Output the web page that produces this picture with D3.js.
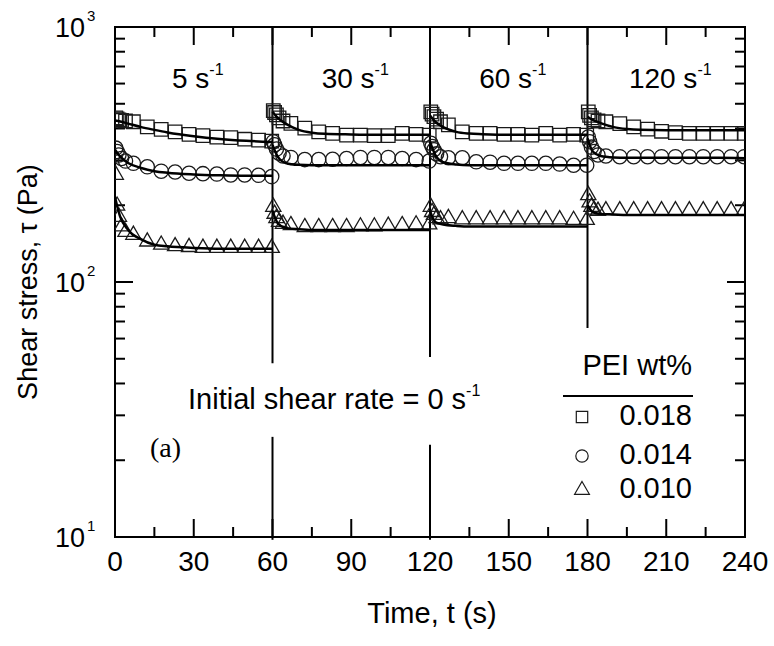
<!DOCTYPE html>
<html>
<head>
<meta charset="utf-8">
<script src="https://cdn.jsdelivr.net/npm/d3@7"></script>
<style>
body { margin: 0; background: #fff; }
text { font-family: "Liberation Sans", Arial, sans-serif; fill: #000; }
</style>
</head>
<body>
<script>
(function(){

//segment starts (shear rate step changes) and sample times inside each segment
var segStarts = [0, 60, 120, 180];
var rateLabels = ["5", "30", "60", "120"];
var sampleOffsets = [0.3, 0.8, 1.5, 2.5, 4, 7, 12.3, 17.6, 22.9, 28.2, 33.5, 38.8, 44.1, 49.4, 54.7, 59.7];
var fitOffsets = [0, 2, 5, 10, 15, 20, 30, 40, 50, 60];

//measured stress (Pa), one array per segment
var sq018 = [
    [440, 436, 432, 430, 428, 425, 406, 397, 388, 379, 375, 370, 368, 363, 360, 357],
    [470, 462, 452, 440, 428, 419, 401, 388, 383, 377, 377, 375, 375, 383, 379, 377],
    [465, 455, 445, 435, 425, 413, 388, 383, 383, 379, 379, 377, 383, 377, 379, 377],
    [465, 450, 440, 432, 428, 425, 418, 406, 398, 390, 385, 383, 383, 383, 383, 383]
];
var ci014 = [
    [335, 325, 315, 305, 298, 292, 283, 272, 270, 267, 266, 265, 263, 263, 262, 259],
    [355, 345, 332, 320, 312, 308, 302, 302, 303, 305, 308, 308, 308, 305, 302, 298],
    [350, 340, 330, 318, 310, 307, 307, 296, 295, 292, 292, 292, 292, 290, 287, 287],
    [370, 355, 338, 325, 315, 312, 310, 310, 310, 310, 310, 310, 310, 310, 310, 310]
];
var tr010 = [
    [263, 199, 180, 165, 157, 153, 144, 140, 138, 137, 136, 136, 136, 136, 136, 136],
    [197, 185, 178, 172, 169, 167, 164, 164, 164, 164, 165, 165, 166, 167, 168, 168],
    [197, 188, 183, 178, 176, 178, 176, 176, 176, 176, 176, 176, 176, 176, 175, 175],
    [219, 205, 197, 192, 190, 191, 191, 191, 191, 191, 191, 191, 191, 191, 191, 191]
];

//fitted curves (Pa) at fitOffsets
var fit018 = [
    [430, 426, 418, 405, 395, 386, 373, 364, 358, 354],
    [465, 440, 418, 395, 385, 381, 379, 378, 378, 378],
    [450, 425, 405, 388, 382, 380, 378, 378, 378, 378],
    [445, 432, 420, 405, 398, 395, 394, 394, 394, 394]
];
var fit014 = [
    [330, 310, 293, 280, 272, 268, 264, 262, 261, 261],
    [345, 310, 293, 288, 287, 287, 287, 287, 287, 287],
    [355, 315, 295, 289, 287, 287, 287, 287, 287, 287],
    [366, 325, 312, 308, 307, 307, 307, 307, 307, 306]
];
var fit010 = [
    [215, 180, 160, 147, 140, 138, 136, 135, 135, 135],
    [190, 170, 163, 161, 160, 160, 160, 160, 160, 160],
    [190, 172, 168, 166, 165, 165, 165, 165, 165, 165],
    [200, 188, 185, 184, 183, 183, 183, 183, 183, 183]
];

//vertical step lines: time and [top, bottom] stress spans
var dividerTimes = [60, 120, 180];
var dividerSpans = [
    [[1000, 48], [24.7, 9.75]],
    [[1000, 50.8], [23, 9.75]],
    [[1000, 66]]
];

var legendLabels = ["0.018", "0.014", "0.010"];
var xMajor = [0, 30, 60, 90, 120, 150, 180, 210, 240];
var xMinor = [15, 45, 75, 105, 135, 165, 195, 225];
var yMajor = [10, 100, 1000];
var yExp = ["1", "2", "3"];

var width = 774, height = 646;
var left = 115, right = 745, top = 27, bottom = 537;

var x = d3.scaleLinear().domain([0, 240]).range([left, right]);
var y = d3.scaleLog().domain([10, 1000]).range([bottom, top]);

var svg = d3.select("body").append("svg")
    .attr("width", width)
    .attr("height", height);

svg.append("clipPath").attr("id", "plotClip")
    .append("rect")
    .attr("x", left).attr("y", top)
    .attr("width", right - left).attr("height", bottom - top);

//minor log ticks
var yMinor = [];
[10, 100].forEach(function(dec){
    for (var k = 2; k <= 9; k++) yMinor.push(dec * k);
});

//ticks on all four sides, pointing inward
var ticks = svg.append("g").attr("stroke", "#000").attr("stroke-width", 2);
function hTicks(vals, len){
    vals.forEach(function(v){
        ticks.append("line").attr("x1", x(v)).attr("x2", x(v)).attr("y1", bottom).attr("y2", bottom - len);
        ticks.append("line").attr("x1", x(v)).attr("x2", x(v)).attr("y1", top).attr("y2", top + len);
    });
}
function vTicks(vals, len){
    vals.forEach(function(v){
        ticks.append("line").attr("x1", left).attr("x2", left + len).attr("y1", y(v)).attr("y2", y(v));
        ticks.append("line").attr("x1", right).attr("x2", right - len).attr("y1", y(v)).attr("y2", y(v));
    });
}
hTicks(xMajor.slice(1, -1), 18);
hTicks(xMinor, 10);
vTicks(yMajor.slice(1, -1), 18);
vTicks(yMinor, 10);

//frame
svg.append("rect")
    .attr("x", left).attr("y", top)
    .attr("width", right - left).attr("height", bottom - top)
    .attr("fill", "none").attr("stroke", "#000").attr("stroke-width", 2);

//step lines
dividerTimes.forEach(function(t, i){
    dividerSpans[i].forEach(function(s){
        svg.append("line")
            .attr("x1", x(t)).attr("x2", x(t))
            .attr("y1", y(s[0])).attr("y2", y(s[1]))
            .attr("stroke", "#000").attr("stroke-width", 2);
    });
});

//x tick labels
svg.selectAll(".xlab")
    .data(xMajor)
    .enter()
    .append("text")
    .attr("class", "xlab")
    .attr("x", function(d){ return x(d); })
    .attr("y", bottom + 34)
    .attr("text-anchor", "middle")
    .style("font-size", "28px")
    .text(function(d){ return d; });

//y tick labels 10^n
yMajor.forEach(function(v, i){
    svg.append("text")
        .attr("x", 85)
        .attr("y", y(v) + 10)
        .attr("text-anchor", "end")
        .style("font-size", "27px")
        .text("10");
    svg.append("text")
        .attr("x", 87)
        .attr("y", y(v) - 6)
        .style("font-size", "15px")
        .text(yExp[i]);
});

//axis titles
svg.append("text")
    .attr("x", 432).attr("y", 623)
    .attr("text-anchor", "middle")
    .style("font-size", "29px")
    .text("Time, t (s)");

svg.append("text")
    .attr("transform", "translate(37," + y(100) + ") rotate(-90)")
    .attr("text-anchor", "middle")
    .style("font-size", "27px")
    .text("Shear stress, \u03c4 (Pa)");

//shear rate labels
segStarts.forEach(function(s, i){
    var t = svg.append("text")
        .attr("x", x(s + 30) + 4)
        .attr("y", 88)
        .attr("text-anchor", "middle")
        .style("font-size", "28px");
    t.append("tspan").text(rateLabels[i] + " s");
    t.append("tspan").attr("dy", -13).style("font-size", "16px").text("-1");
});

var init = svg.append("text")
    .attr("x", 188).attr("y", 409)
    .style("font-size", "29px");
init.append("tspan").text("Initial shear rate = 0 s");
init.append("tspan").attr("dy", -13).style("font-size", "16px").text("-1");

svg.append("text")
    .attr("x", 150).attr("y", 457)
    .style("font-family", "'Liberation Serif', 'Times New Roman', serif")
    .style("font-size", "28px")
    .text("(a)");

//build point tables
function buildPoints(vals, offsets){
    var pts = [];
    vals.forEach(function(seg, i){
        seg.forEach(function(v, j){
            pts.push({t: segStarts[i] + offsets[j], v: v, seg: i});
        });
    });
    return pts;
}

var series = [
    {pts: buildPoints(sq018, sampleOffsets), fit: fit018, shape: d3.symbolSquare, size: 182},
    {pts: buildPoints(ci014, sampleOffsets), fit: fit014, shape: d3.symbolCircle, size: 160},
    {pts: buildPoints(tr010, sampleOffsets), fit: fit010, shape: d3.symbolTriangle, size: 100}
];

var plot = svg.append("g").attr("clip-path", "url(#plotClip)");

series.forEach(function(s){
    plot.selectAll(null)
        .data(s.pts)
        .enter()
        .append("path")
        .attr("d", d3.symbol().type(s.shape).size(s.size))
        .attr("transform", function(d){ return "translate(" + x(d.t) + "," + y(d.v) + ")"; })
        .attr("fill", "none")
        .attr("stroke", "#1a1a1a")
        .attr("stroke-width", 1.3);
});

var line = d3.line()
    .x(function(d){ return x(d.t); })
    .y(function(d){ return y(d.v); })
    .curve(d3.curveMonotoneX);

series.forEach(function(s){
    s.fit.forEach(function(seg, i){
        var pts = seg.map(function(v, j){ return {t: segStarts[i] + fitOffsets[j], v: v}; });
        plot.append("path")
            .datum(pts)
            .attr("d", line)
            .attr("fill", "none")
            .attr("stroke", "#000")
            .attr("stroke-width", 2.5);
    });
});

//legend
var leg = svg.append("g");
leg.append("text")
    .attr("x", 692).attr("y", 375)
    .attr("text-anchor", "end")
    .style("font-size", "29px")
    .text("PEI wt%");
leg.append("line")
    .attr("x1", 563).attr("x2", 693)
    .attr("y1", 396).attr("y2", 396)
    .attr("stroke", "#000").attr("stroke-width", 2);

var legShapes = [d3.symbolSquare, d3.symbolCircle, d3.symbolTriangle];
var legSizes = [130, 120, 95];
var legY = [417, 456, 490];
legendLabels.forEach(function(lab, i){
    leg.append("path")
        .attr("d", d3.symbol().type(legShapes[i]).size(legSizes[i]))
        .attr("transform", "translate(582," + legY[i] + ")")
        .attr("fill", "none").attr("stroke", "#1a1a1a").attr("stroke-width", 1.2);
    leg.append("text")
        .attr("x", 692).attr("y", legY[i] + 8)
        .attr("text-anchor", "end")
        .style("font-size", "29px")
        .text(lab);
});

})();
</script>
</body>
</html>
